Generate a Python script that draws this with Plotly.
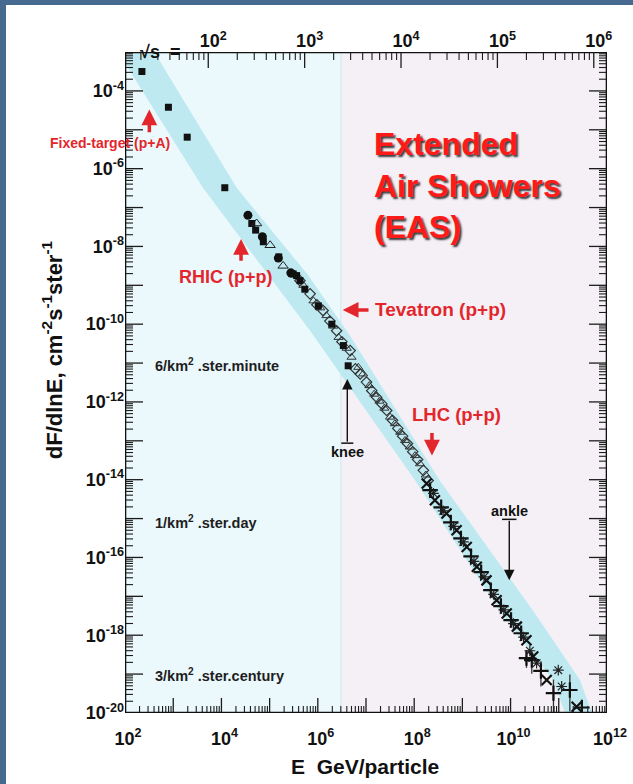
import math
import plotly.graph_objects as go

# ---------------- data (log10 values) ----------------
# E in GeV/particle, flux dF/dlnE in cm^-2 s^-1 ster^-1
fixed_target_logE = [2.35, 2.90, 3.29, 4.07]
fixed_target_logF = [-3.50, -4.42, -5.19, -6.49]

direct_circle_logE = [4.55, 4.85, 5.18, 5.44]
direct_circle_logF = [-7.20, -7.75, -8.30, -8.68]

direct_square_logE = [4.63, 4.71, 4.87, 5.19, 5.46, 5.49, 5.56, 5.63, 5.73, 6.01, 6.29, 6.53]
direct_square_logF = [-7.41, -7.58, -7.88, -8.27, -8.70, -8.71, -8.75, -8.88, -9.10, -9.53, -10.00, -10.55]

direct_triangle_logE = [4.73, 5.01, 5.28]
direct_triangle_logF = [-7.41, -7.97, -8.50]

eas_diamond_logE = [5.63, 5.84, 5.98, 6.11, 6.25, 6.39, 6.50, 6.67, 6.78, 6.88, 7.01, 7.12, 7.22, 7.33, 7.43, 7.55, 7.66, 7.76, 7.86, 7.97, 8.07, 8.19, 8.29]
eas_diamond_logF = [-8.88, -9.22, -9.50, -9.65, -9.92, -10.17, -10.45, -10.68, -11.15, -11.28, -11.49, -11.71, -11.88, -12.05, -12.22, -12.47, -12.68, -12.88, -13.07, -13.28, -13.48, -13.76, -14.02]

eas_triangle_logE = [5.70, 5.91, 6.05, 6.18, 6.32, 6.43, 6.60, 6.70, 6.84, 6.94, 7.07, 7.17, 7.28, 7.38, 7.50, 7.60, 7.71, 7.81, 7.91, 8.02, 8.12, 8.24]
eas_triangle_logF = [-9.00, -9.40, -9.58, -9.78, -10.05, -10.34, -10.62, -10.85, -11.11, -11.28, -11.58, -11.80, -11.98, -12.16, -12.39, -12.56, -12.78, -12.99, -13.16, -13.38, -13.59, -13.88]

knee_point_logE = [6.63]
knee_point_logF = [-11.07]

he_plus_logE = [8.33, 8.56, 8.76, 8.97, 9.18, 9.39, 9.59, 9.80, 10.01, 10.22, 10.33, 10.44, 10.63, 10.89, 11.23, 11.48]
he_plus_logF = [-14.27, -14.71, -15.10, -15.51, -15.97, -16.38, -16.84, -17.25, -17.61, -17.95, -18.59, -18.64, -18.92, -19.49, -19.41, -19.86]
he_plus_err_up = [0.05, 0.05, 0.05, 0.05, 0.06, 0.06, 0.08, 0.08, 0.10, 0.12, 0.20, 0.25, 0.25, 0.35, 0.40, 0.10]
he_plus_err_dn = [0.05, 0.05, 0.05, 0.05, 0.06, 0.06, 0.08, 0.08, 0.10, 0.12, 0.25, 0.35, 0.40, 0.50, 0.55, 0.14]

he_x_logE = [8.26, 8.43, 8.67, 8.88, 9.09, 9.30, 9.50, 9.71, 9.92, 10.13, 10.33, 10.47, 10.75, 11.37]
he_x_logF = [-14.10, -14.53, -14.87, -15.30, -15.73, -16.24, -16.59, -17.10, -17.44, -17.78, -18.13, -18.55, -19.15, -19.84]

he_star_logE = [8.40, 8.60, 8.82, 9.02, 9.24, 9.45, 9.65, 9.86, 10.06, 10.27, 10.40, 10.54, 10.99, 11.06]
he_star_logF = [-14.35, -14.80, -15.20, -15.60, -16.10, -16.50, -16.95, -17.35, -17.70, -18.05, -18.40, -18.72, -18.90, -19.32]

# shaded band around the spectrum (upper and lower edges)
band_upper_logE = [2.00, 2.62, 4.32, 5.78, 6.67, 8.53, 10.50, 11.44, 11.69]
band_upper_logF = [-1.76, -3.03, -6.50, -8.71, -10.30, -14.02, -17.43, -19.15, -20.00]
band_lower_logE = [2.00, 3.62, 4.95, 5.84, 8.02, 9.80, 10.88, 11.13]
band_lower_logF = [-3.29, -6.50, -8.71, -10.17, -14.02, -17.43, -19.15, -20.00]

# axes
x_log_range = [2, 12]
y_log_range = [-20, -3]
region_split_E = 3.0e6          # boundary between accelerator and EAS regions
two_mp = 1.876                  # sqrt(s) = sqrt(2 m_p E), GeV

x_tick_values = [1e2, 1e3, 1e4, 1e5, 1e6, 1e7, 1e8, 1e9, 1e10, 1e11, 1e12]
x_tick_labels = ["10<sup>2</sup>", "", "10<sup>4</sup>", "", "10<sup>6</sup>", "",
                 "10<sup>8</sup>", "", "10<sup>10</sup>", "", "10<sup>12</sup>"]
s_tick_values = [1e2, 1e3, 1e4, 1e5, 1e6]
s_tick_labels = ["10<sup>2</sup>", "10<sup>3</sup>", "10<sup>4</sup>", "10<sup>5</sup>", "10<sup>6</sup>"]
y_tick_values = [1e-20, 1e-19, 1e-18, 1e-17, 1e-16, 1e-15, 1e-14, 1e-13, 1e-12,
                 1e-11, 1e-10, 1e-9, 1e-8, 1e-7, 1e-6, 1e-5, 1e-4, 1e-3]
y_tick_labels = ["10<sup>-20</sup>", "", "10<sup>-18</sup>", "", "10<sup>-16</sup>", "",
                 "10<sup>-14</sup>", "", "10<sup>-12</sup>", "", "10<sup>-10</sup>", "",
                 "10<sup>-8</sup>", "", "10<sup>-6</sup>", "", "10<sup>-4</sup>", ""]
minor_multipliers = [2, 3, 4, 5, 6, 7, 8, 9]

# annotation anchors (log10 E, log10 F)
fixed_target_arrow = (2.504, -4.475, -5.10)
fixed_target_label = (2.975, -5.34)
rhic_arrow = (4.407, -7.81, -8.41)
rhic_label = (4.095, -8.78)
tevatron_arrow = (6.517, 7.083, -9.635)
tevatron_label = (7.151, -9.635)
lhc_arrow = (8.369, -13.38, -12.76)
lhc_label = (8.888, -12.33)
knee_arrow = (6.612, -11.41, -13.06)
knee_label = (6.612, -13.30)
ankle_arrow = (9.973, -16.585, -15.02)
ankle_label = (9.973, -14.81)
eas_label = (7.124, -6.42)
rate_labels = ["6/km<sup>2</sup> .ster.minute", "1/km<sup>2</sup> .ster.day", "3/km<sup>2</sup> .ster.century"]
rate_label_logF = [-11.05, -15.09, -19.02]
rate_label_logE = 2.581

# ---------------- styling / layout ----------------
FONT = "Liberation Sans, Arial, Helvetica, sans-serif"
RED = "#e3262b"
CYAN_BG = "#ebf8fc"
PINK_BG = "#f5f0f6"
BAND = "#bfe9f1"
FRAME = "#45698f"
INK = "#111111"
TICK_INK = "#1c1c1c"
W, H = 633, 784
M = dict(l=125, r=26, t=52, b=71)

xr = [x_log_range[0] - 0.001, x_log_range[1] + 0.001]
sr = [0.5 * (xr[0] + math.log10(two_mp)), 0.5 * (xr[1] + math.log10(two_mp))]
yr = [y_log_range[0] - 0.001, y_log_range[1] + 0.001]
px_per_dec_x = (W - M["l"] - M["r"]) / (xr[1] - xr[0])
px_per_dec_y = (H - M["t"] - M["b"]) / (yr[1] - yr[0])


def p10(v):
    return [10.0 ** a for a in v]


fig = go.Figure()

# accelerator region background
fig.add_trace(go.Scatter(
    x=[10 ** xr[0], region_split_E, region_split_E, 10 ** xr[0]],
    y=[10 ** yr[0], 10 ** yr[0], 10 ** yr[1], 10 ** yr[1]],
    fill="toself", fillcolor=CYAN_BG, mode="lines", line=dict(width=0),
    hoverinfo="skip", showlegend=False))
fig.add_trace(go.Scatter(
    x=[region_split_E, region_split_E], y=[10 ** yr[0], 10 ** yr[1]],
    mode="lines", line=dict(width=1.5, color="#d6eef5"), hoverinfo="skip", showlegend=False))

# band
fig.add_trace(go.Scatter(
    x=p10(band_upper_logE) + p10(band_lower_logE[::-1]),
    y=p10(band_upper_logF) + p10(band_lower_logF[::-1]),
    fill="toself", fillcolor=BAND, mode="lines", line=dict(width=0),
    hoverinfo="skip", showlegend=False))


def add_markers(lx, ly, symbol, size, color=INK, lw=1.0):
    fig.add_trace(go.Scatter(
        x=p10(lx), y=p10(ly), mode="markers", showlegend=False, hoverinfo="skip",
        marker=dict(symbol=symbol, size=size, color=color, line=dict(width=lw, color=color))))


add_markers(eas_diamond_logE, eas_diamond_logF, "diamond-open", 8, "#333", 1.2)
add_markers(eas_triangle_logE, eas_triangle_logF, "triangle-up-open", 8, "#333", 1.0)
add_markers(fixed_target_logE, fixed_target_logF, "square", 7, INK, 0)
add_markers(direct_circle_logE, direct_circle_logF, "circle", 9, INK, 0)
add_markers(direct_square_logE, direct_square_logF, "square", 7, INK, 0)
add_markers(direct_triangle_logE, direct_triangle_logF, "triangle-up-open", 9, "#222", 1.0)
add_markers(knee_point_logE, knee_point_logF, "square", 7, INK, 0)

fig.add_trace(go.Scatter(
    x=p10(he_plus_logE), y=p10(he_plus_logF), mode="markers", showlegend=False, hoverinfo="skip",
    marker=dict(symbol="cross-thin-open", size=11, color=INK, line=dict(width=2.2, color=INK)),
    error_y=dict(type="data", symmetric=False,
                 array=[10 ** (f + u) - 10 ** f for f, u in zip(he_plus_logF, he_plus_err_up)],
                 arrayminus=[10 ** f - 10 ** (f - d) for f, d in zip(he_plus_logF, he_plus_err_dn)],
                 color="#333", thickness=1.3, width=0)))
add_markers(he_x_logE, he_x_logF, "x-thin-open", 10, INK, 2.2)
add_markers(he_star_logE, he_star_logF, "asterisk-open", 9, "#222", 1.2)

# T-bars of knee / ankle markers
fig.add_trace(go.Scatter(x=[10 ** (knee_arrow[0] - 0.125), 10 ** (knee_arrow[0] + 0.125)],
                         y=[10 ** knee_arrow[2]] * 2, mode="lines", line=dict(color=INK, width=1.5),
                         hoverinfo="skip", showlegend=False))
fig.add_trace(go.Scatter(x=[10 ** (ankle_arrow[0] - 0.15), 10 ** (ankle_arrow[0] + 0.15)],
                         y=[10 ** ankle_arrow[2]] * 2, mode="lines", line=dict(color=INK, width=1.5),
                         hoverinfo="skip", showlegend=False))

# ---------------- tick marks (inside, on all four sides) ----------------
x_minor = [m * 10.0 ** d for d in range(2, 12) for m in minor_multipliers]
y_minor = [m * 10.0 ** d for d in range(-20, -3) for m in minor_multipliers]
s_minor = [m * 10.0 ** d for d in range(1, 6) for m in minor_multipliers]


def tick_trace(xs, ys, width):
    fig.add_trace(go.Scatter(x=xs, y=ys, mode="lines", line=dict(color=TICK_INK, width=width),
                             hoverinfo="skip", showlegend=False, connectgaps=False))


def bottom_ticks(vals, length, width):
    xs, ys = [], []
    y_top = 10 ** (yr[0] + length / px_per_dec_y)
    for v in vals:
        xs += [v, v, None]
        ys += [10 ** yr[0], y_top, None]
    tick_trace(xs, ys, width)


def top_ticks(s_vals, length, width):
    xs, ys = [], []
    y_bot = 10 ** (yr[1] - length / px_per_dec_y)
    for s in s_vals:
        e = s * s / two_mp            # sqrt(s) -> beam energy
        xs += [e, e, None]
        ys += [10 ** yr[1], y_bot, None]
    tick_trace(xs, ys, width)


def side_ticks(vals, length, width):
    xs, ys = [], []
    dx = length / px_per_dec_x
    for v in vals:
        xs += [10 ** xr[0], 10 ** (xr[0] + dx), None, 10 ** xr[1], 10 ** (xr[1] - dx), None]
        ys += [v, v, None, v, v, None]
    tick_trace(xs, ys, width)


bottom_ticks(x_tick_values, 15, 1.3)
bottom_ticks(x_minor, 7, 1.1)
top_ticks(s_tick_values, 16, 1.3)
top_ticks(s_minor, 8, 1.1)
side_ticks(y_tick_values, 18, 1.3)
side_ticks(y_minor, 8, 1.1)

# frame
fig.add_trace(go.Scatter(
    x=[10 ** xr[0], 10 ** xr[1], 10 ** xr[1], 10 ** xr[0], 10 ** xr[0]],
    y=[10 ** yr[0], 10 ** yr[0], 10 ** yr[1], 10 ** yr[1], 10 ** yr[0]],
    mode="lines", line=dict(color=INK, width=2.6), hoverinfo="skip", showlegend=False))

# invisible anchor trace for the sqrt(s) axis
fig.add_trace(go.Scatter(x=[1e3], y=[1e-10], xaxis="x2", yaxis="y", mode="markers",
                         marker=dict(opacity=0), hoverinfo="skip", showlegend=False))

ann = []


def arrow(x, y, ax, ay, color, width, size):
    ann.append(dict(x=x, y=y, ax=ax, ay=ay, xref="x", yref="y", axref="x", ayref="y",
                    text="", showarrow=True, arrowhead=2, arrowsize=size, arrowwidth=width,
                    arrowcolor=color))


def label(x, y, text, size, color, xanchor="center", yanchor="middle"):
    ann.append(dict(x=x, y=y, xref="x", yref="y", text=text, showarrow=False,
                    xanchor=xanchor, yanchor=yanchor,
                    font=dict(family=FONT, size=size, color=color, weight="bold")))


arrow(fixed_target_arrow[0], fixed_target_arrow[1], fixed_target_arrow[0], fixed_target_arrow[2], RED, 3.5, 0.9)
label(fixed_target_label[0], fixed_target_label[1], "Fixed-target (p+A)", 14, RED, xanchor="right")
arrow(rhic_arrow[0], rhic_arrow[1], rhic_arrow[0], rhic_arrow[2], RED, 3.5, 0.9)
label(rhic_label[0], rhic_label[1], "RHIC (p+p)", 18, RED)
arrow(tevatron_arrow[0], tevatron_arrow[2], tevatron_arrow[1], tevatron_arrow[2], RED, 3.5, 0.9)
label(tevatron_label[0], tevatron_label[1], "Tevatron (p+p)", 19, RED, xanchor="left")
arrow(lhc_arrow[0], lhc_arrow[1], lhc_arrow[0], lhc_arrow[2], RED, 3.5, 0.9)
label(lhc_label[0], lhc_label[1], "LHC (p+p)", 18.5, RED)
arrow(knee_arrow[0], knee_arrow[1], knee_arrow[0], knee_arrow[2], INK, 1.4, 1.5)
label(knee_label[0], knee_label[1], "knee", 14.5, INK)
arrow(ankle_arrow[0], ankle_arrow[1], ankle_arrow[0], ankle_arrow[2], INK, 1.4, 1.5)
label(ankle_label[0], ankle_label[1], "ankle", 14.5, INK)
ann.append(dict(x=eas_label[0], y=eas_label[1], xref="x", yref="y",
                text="Extended<br>Air Showers<br>(EAS)", showarrow=False,
                xanchor="left", yanchor="middle", align="left",
                font=dict(family=FONT, size=32, color="#ff1a1a", weight="bold",
                          shadow="2px 2px 2px #3a3a3a")))
for txt, lf in zip(rate_labels, rate_label_logF):
    label(rate_label_logE, lf, txt, 14.5, "#1e1e1e", xanchor="left")

# axis titles
ann.append(dict(x=-0.183, y=0.55, xref="paper", yref="paper", textangle=-90,
                text="dF/dlnE, cm<sup>-2</sup>s<sup>-1</sup>ster<sup>-1</sup>", showarrow=False,
                font=dict(family=FONT, size=22, color=INK, weight="bold")))
ann.append(dict(x=0.498, y=-0.102, xref="paper", yref="paper",
                text="E\u00a0\u00a0GeV/particle", showarrow=False,
                font=dict(family=FONT, size=21, color=INK, weight="bold")))
ann.append(dict(x=0.118, y=1.018, xref="paper", yref="paper", xanchor="right",
                text="\u221as\u00a0\u00a0=", showarrow=False,
                font=dict(family=FONT, size=18, color=INK, weight="bold")))

shapes = [
    dict(type="rect", xref="paper", yref="paper", x0=-0.27, x1=-0.2469, y0=-0.12, y1=1.09,
         fillcolor=FRAME, line=dict(width=0), layer="below"),
    dict(type="rect", xref="paper", yref="paper", x0=-0.27, x1=1.06, y0=1.0711, y1=1.09,
         fillcolor=FRAME, line=dict(width=0), layer="below"),
]

tickfont = dict(family=FONT, size=18, color=INK, weight="bold")
common = dict(type="log", showgrid=False, zeroline=False, automargin=False,
              tickmode="array", ticks="", showline=False)

fig.update_layout(
    width=W, height=H,
    margin=M,
    paper_bgcolor="white", plot_bgcolor=PINK_BG,
    showlegend=False,
    xaxis=dict(common, range=xr, tickvals=x_tick_values, ticktext=x_tick_labels,
               tickfont=tickfont, ticklabelstandoff=13, ticklabelshift=3),
    xaxis2=dict(common, overlaying="x", side="top", anchor="y", range=sr,
                tickvals=s_tick_values, ticktext=s_tick_labels, tickfont=tickfont,
                ticklabelshift=5),
    yaxis=dict(common, range=yr, tickvals=y_tick_values, ticktext=y_tick_labels, tickfont=tickfont),
    annotations=ann,
    shapes=shapes,
)

fig.write_html("out.html", config={"displayModeBar": False},
               post_script="document.body.style.margin='0';")
